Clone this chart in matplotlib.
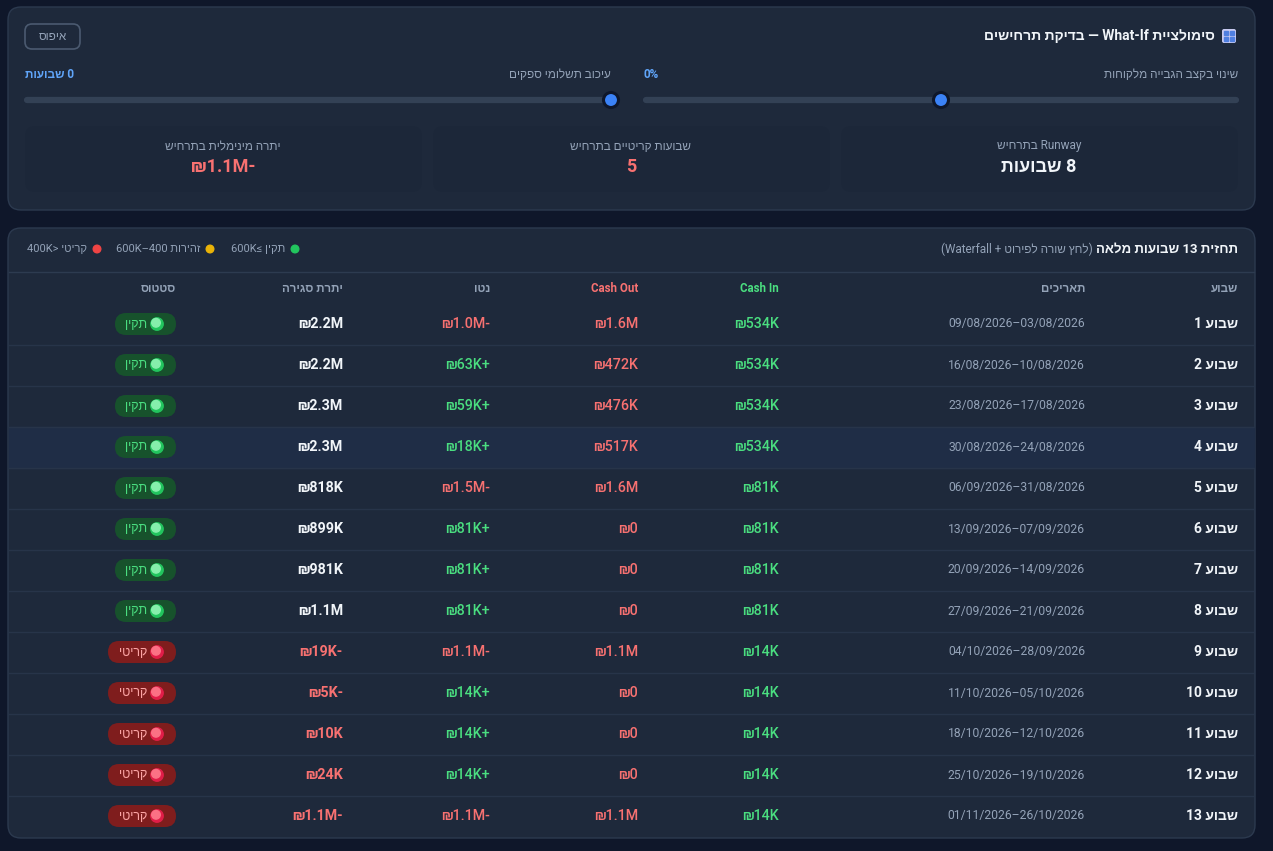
import matplotlib
matplotlib.use("Agg")
import matplotlib.pyplot as plt
from matplotlib.patches import FancyBboxPatch, Circle, Rectangle

FONT = ['Roboto', 'Liberation Sans', 'DejaVu Sans']

# ---- data ----
weeks = list(range(1, 14))
start_dates = ['03/08/2026', '10/08/2026', '17/08/2026', '24/08/2026', '31/08/2026',
               '07/09/2026', '14/09/2026', '21/09/2026', '28/09/2026', '05/10/2026',
               '12/10/2026', '19/10/2026', '26/10/2026']
end_dates = ['09/08/2026', '16/08/2026', '23/08/2026', '30/08/2026', '06/09/2026',
             '13/09/2026', '20/09/2026', '27/09/2026', '04/10/2026', '11/10/2026',
             '18/10/2026', '25/10/2026', '01/11/2026']
cash_in_k = [534, 534, 534, 534, 81, 81, 81, 81, 14, 14, 14, 14, 14]
cash_out_k = [1600, 472, 476, 517, 1600, 0, 0, 0, 1100, 0, 0, 0, 1100]
net_k = [-1000, 63, 59, 18, -1500, 81, 81, 81, -1100, 14, 14, 14, -1100]
balance_k = [2200, 2200, 2300, 2300, 818, 899, 981, 1100, -19, -5, 10, 24, -1100]
status = ['ok'] * 8 + ['crit'] * 5

runway_weeks = 8
critical_weeks = 5
min_balance_k = -1100
collection_change = 0      # %
supplier_delay = 0         # weeks


def h(s):
    # Hebrew text in visual order (matplotlib draws left to right)
    return s[::-1]


def money(v, plus=False):
    a = abs(v)
    if a >= 1000:
        s = f"{a / 1000:.1f}M"
    elif a == 0:
        s = "0"
    else:
        s = f"{a}K"
    sign = "-" if v < 0 else ("+" if plus and v > 0 else "")
    return "₪" + s + sign


BG = '#0f172a'
CARD = '#1e293b'
EDGE = '#2c3a4f'
GRAY = '#94a3b8'
WHITE = '#f1f5f9'
GREEN = '#4ade80'
RED = '#f87171'
BLUE = '#60a5fa'

fig = plt.figure(figsize=(12.73, 8.51), dpi=100)
fig.patch.set_facecolor(BG)
ax = fig.add_axes([0, 0, 1, 1])
ax.set_xlim(0, 1273)
ax.set_ylim(851, 0)
ax.axis('off')


def txt(x, y, s, color=WHITE, size=9, weight='normal', ha='right'):
    ax.text(x, y, s, color=color, fontsize=size, fontweight=weight,
            ha=ha, va='center', family=FONT)


def rbox(x, y, w, hgt, r, face, edge='none', lw=1, z=1):
    ax.add_patch(FancyBboxPatch((x, y), w, hgt, boxstyle=f"round,pad=0,rounding_size={r}",
                                facecolor=face, edgecolor=edge, linewidth=lw, zorder=z))


# ---- top card: what-if ----
rbox(8, 7, 1247, 203, 13, CARD, EDGE)
txt(1215, 36, h("בדיקת תרחישים") + " — What-If " + h("סימולציית"), WHITE, 10, 'bold')
rbox(1222, 29, 14, 14, 2, '#c7c9f0', z=2)
for dx in (1226, 1232):
    for dy in (33, 39):
        ax.add_patch(Rectangle((dx - 2, dy - 2), 4, 4, color='#4f7fe0', zorder=3))

rbox(25, 24, 55, 25, 7, 'none', '#4b5a70', 1.2)
txt(52.5, 37, h("איפוס"), GRAY, 8.5, ha='center')

# sliders
sliders = [
    (644, 1238, h("שינוי בקצב הגבייה מלקוחות"), f"{collection_change}%", 0.5),
    (25, 611, h("עיכוב תשלומי ספקים"), h("שבועות") + f" {supplier_delay}", 1.0),
]
for x0, x1, label, value, frac in sliders:
    txt(x1, 74, label, GRAY, 8.5)
    txt(x0, 74, value, BLUE, 8.5, 'bold', ha='left')
    ax.plot([x0 + 2, x1 - 2], [100, 100], color='#334155', lw=4.5,
            solid_capstyle='round', zorder=2)
    ax.add_patch(Circle((x0 + frac * (x1 - x0), 100), 7.5, facecolor='#3b82f6',
                        edgecolor='#0f172a', lw=2.2, zorder=3))

# stat boxes
stats = [
    (841, h("בתרחיש") + " Runway", h("שבועות") + f" {runway_weeks}", WHITE),
    (433, h("שבועות קריטיים בתרחיש"), str(critical_weeks), RED),
    (25, h("יתרה מינימלית בתרחיש"), money(min_balance_k), RED),
]
for x0, label, value, col in stats:
    rbox(x0, 126, 397, 66, 10, '#1c2739', z=1.5)
    txt(x0 + 198, 146, label, GRAY, 8.5, ha='center')
    txt(x0 + 198, 167, value, col, 13, 'bold', ha='center')

# ---- forecast card ----
rbox(8, 228, 1247, 610, 13, CARD, EDGE)
txt(1238, 249, h("שבועות מלאה") + " 13 " + h("תחזית"), WHITE, 9.5, 'bold')
txt(1093, 249, "(Waterfall + " + h("לחץ שורה לפירוט") + ")", GRAY, 8.5)

legend = [
    (285, 295, "600K≤ " + h("תקין"), '#22c55e'),
    (200, 210, "600K–400 " + h("זהירות"), '#eab308'),
    (87, 97, "400K> " + h("קריטי"), '#ef4444'),
]
for tx, dx, label, col in legend:
    txt(tx, 249, label, GRAY, 8)
    ax.add_patch(Circle((dx, 249), 3.8, color=col, zorder=3))

ax.plot([9, 1254], [272, 272], color='#2d3b50', lw=1, zorder=2)

col_x = [1238, 1085, 779, 638, 490, 343, 176]
headers = [(h("שבוע"), GRAY), (h("תאריכים"), GRAY), ("Cash In", GREEN), ("Cash Out", RED),
           (h("נטו"), GRAY), (h("יתרת סגירה"), GRAY), (h("סטטוס"), GRAY)]
for x, (label, col) in zip(col_x, headers):
    txt(x, 289, label, col, 8.3, 'bold')

row0, step = 324, 41
for i, wk in enumerate(weeks):
    y = row0 + i * step
    if i == 3:
        ax.add_patch(Rectangle((9, y - step / 2), 1245, step, color='#1f2d46', zorder=1.5))
    if i < len(weeks) - 1:
        ax.plot([9, 1254], [y + step / 2, y + step / 2], color='#273449', lw=1, zorder=2)

    txt(col_x[0], y, f"{wk} " + h("שבוע"), WHITE, 10, 'bold')
    txt(col_x[1], y, f"{end_dates[i]}–{start_dates[i]}", GRAY, 8.7)
    txt(col_x[2], y, money(cash_in_k[i]), GREEN, 10.3, 'medium')
    txt(col_x[3], y, money(cash_out_k[i]), RED, 10.3, 'medium')
    txt(col_x[4], y, money(net_k[i], plus=True), GREEN if net_k[i] > 0 else RED, 10.3, 'medium')
    ok = status[i] == 'ok'
    txt(col_x[5], y, money(balance_k[i]), WHITE if ok else RED, 10.3, 'bold')

    # status pill
    w = 61 if ok else 68
    rbox(col_x[6] - w, y - 11, w, 22, 11, '#17522c' if ok else '#7f1d1d', z=2)
    dot_c = '#22c55e' if ok else '#e11d48'
    ax.add_patch(Circle((col_x[6] - 19, y), 6.2, color=dot_c, zorder=3))
    ax.add_patch(Circle((col_x[6] - 20, y - 1.2), 4.3,
                        color='#86efac' if ok else '#fb7185', zorder=3.5))
    txt(col_x[6] - 29, y, h("תקין") if ok else h("קריטי"),
        GREEN if ok else '#fca5a5', 9, 'medium')

fig.savefig("out.png", dpi=100, facecolor=BG)
